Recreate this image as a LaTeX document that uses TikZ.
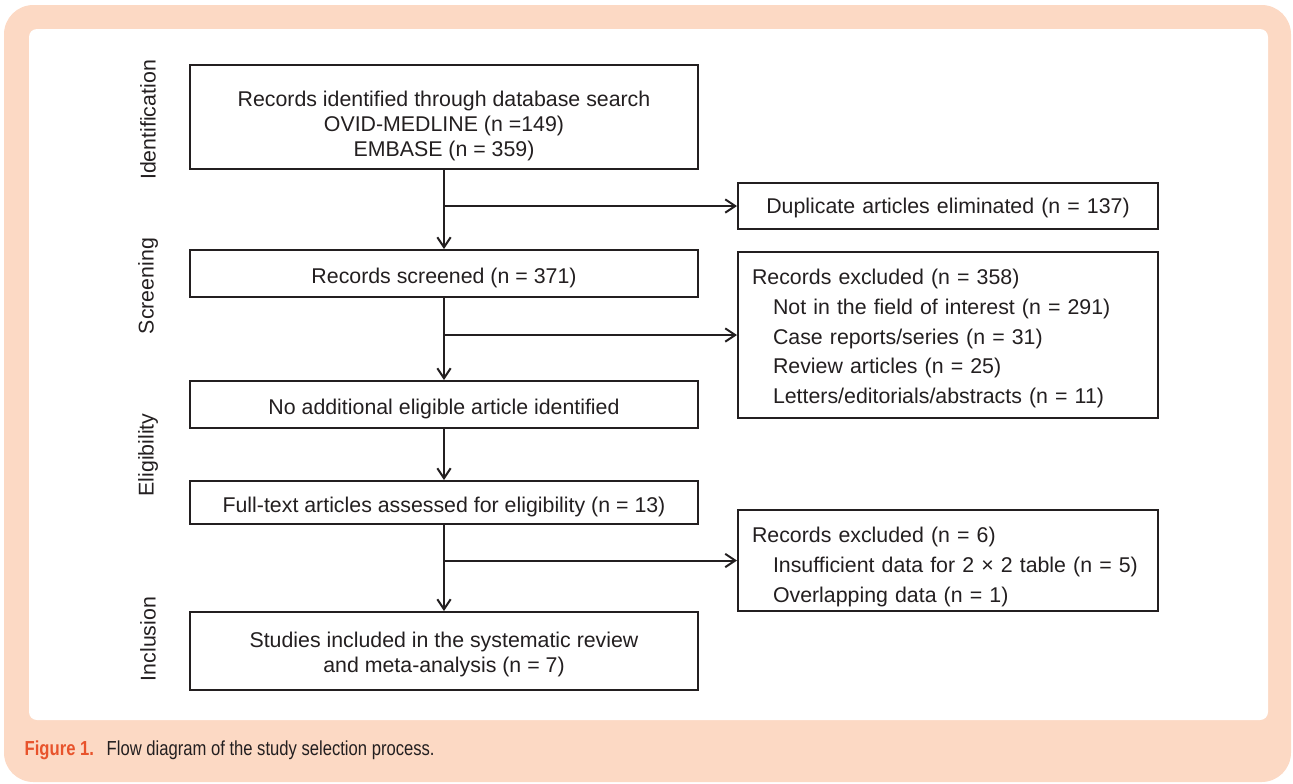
\documentclass[tikz,border=0pt]{standalone}
\usepackage{fontspec}
\setmainfont{Liberation Sans}
\newfontfamily\capfont[FakeStretch=0.82]{Liberation Sans}
\usetikzlibrary{arrows.meta}
\definecolor{peach}{RGB}{252,217,196}
\definecolor{figred}{RGB}{232,83,43}
\definecolor{ink}{RGB}{35,31,32}
% 第一行的支柱, 把文字往下推
\newcommand{\lift}[1]{\rule{0pt}{#1}}

\begin{document}
\begin{tikzpicture}[x=0.75pt, y=-0.75pt,
        >={Straight Barb[length=7.5pt,width=10pt]},
        every node/.style={text=ink, font=\fontsize{16}{18.75}\selectfont},
        lbox/.style={draw=ink, line width=1.5pt, minimum width=381pt, align=center},
        rbox/.style={draw=ink, line width=1.5pt, minimum width=315pt, text width=294pt, align=left,
            font=\fontsize{16}{22.3}\selectfont},
        stage/.style={rotate=90},
        flow/.style={draw=ink, line width=1.5pt, ->}]
        \useasboundingbox (0, 0) rectangle (1293, 783);
        % 外框与白色底
        \fill[peach, rounded corners=22pt] (4, 5) rectangle (1291, 782);
        \fill[white, rounded corners=6pt] (29, 29) rectangle (1268, 720);

        % 左边的阶段名称
        \node[stage] (sid) at (148, 120) {Identification};
        \node[stage] (sscr) at (148, 286) {Screening};
        \node[stage] (selig) at (148, 455) {Eligibility};
        \node[stage] (sinc) at (148, 639) {Inclusion};

        % 主流程
        \node[lbox, minimum height=78pt] (ident) at (444, 117)
            {\lift{25pt}Records identified through database search\\OVID-MEDLINE (n =149)\\EMBASE (n = 359)};
        \node[lbox, minimum height=35.25pt] (screen) at (444, 273.5) {\lift{18.7pt}Records screened (n = 371)};
        \node[lbox, minimum height=35.25pt] (noadd) at (444, 404.5) {\lift{18.2pt}No additional eligible article identified};
        \node[lbox, minimum height=32.25pt] (fulltext) at (444, 502.5)
            {\lift{18.7pt}Full-text articles assessed for eligibility (n = 13)};
        \node[lbox, minimum height=58.5pt] (incl) at (444, 651)
            {\lift{16.2pt}Studies included in the systematic review\\and meta-analysis (n = 7)};

        % 右边排除的记录
        \node[rbox, align=center, minimum height=34.5pt] (dup) at (948, 206)
            {\lift{14.7pt}Duplicate articles eliminated (n = 137)};
        \node[rbox, minimum height=124.5pt] (excl) at (948, 335)
            {\lift{17pt}Records excluded (n = 358)\\
            \hspace*{15.75pt}Not in the field of interest (n = 291)\\
            \hspace*{15.75pt}Case reports/series (n = 31)\\
            \hspace*{15.75pt}Review articles (n = 25)\\
            \hspace*{15.75pt}Letters/editorials/abstracts (n = 11)};
        \node[rbox, minimum height=75.75pt] (excltwo) at (948, 560.5)
            {\lift{21.5pt}Records excluded (n = 6)\\
            \hspace*{15.75pt}Insufficient data for 2 × 2 table (n = 5)\\
            \hspace*{15.75pt}Overlapping data (n = 1)};

        % 箭头
        \draw[flow] (ident) -- (screen);
        \draw[flow] (screen) -- (noadd);
        \draw[flow] (noadd) -- (fulltext);
        \draw[flow] (fulltext) -- (incl);
        \coordinate (bdup) at (ident.south |- dup.west);
        \coordinate (bexcl) at (ident.south |- excl.west);
        \coordinate (bexcltwo) at (ident.south |- excltwo.west);
        \draw[flow] (bdup) -- (dup);
        \draw[flow] (bexcl) -- (excl);
        \draw[flow] (bexcltwo) -- (excltwo);

        % 图注
        \node[anchor=west, font=\capfont\fontsize{15.2}{17}\selectfont\bfseries, text=figred] (figlab) at (20, 750) {Figure 1.};
        \node[anchor=west, font=\capfont\fontsize{15.2}{17}\selectfont] (figcap) at (102, 750)
            {Flow diagram of the study selection process.};
    \end{tikzpicture}
\end{document}
